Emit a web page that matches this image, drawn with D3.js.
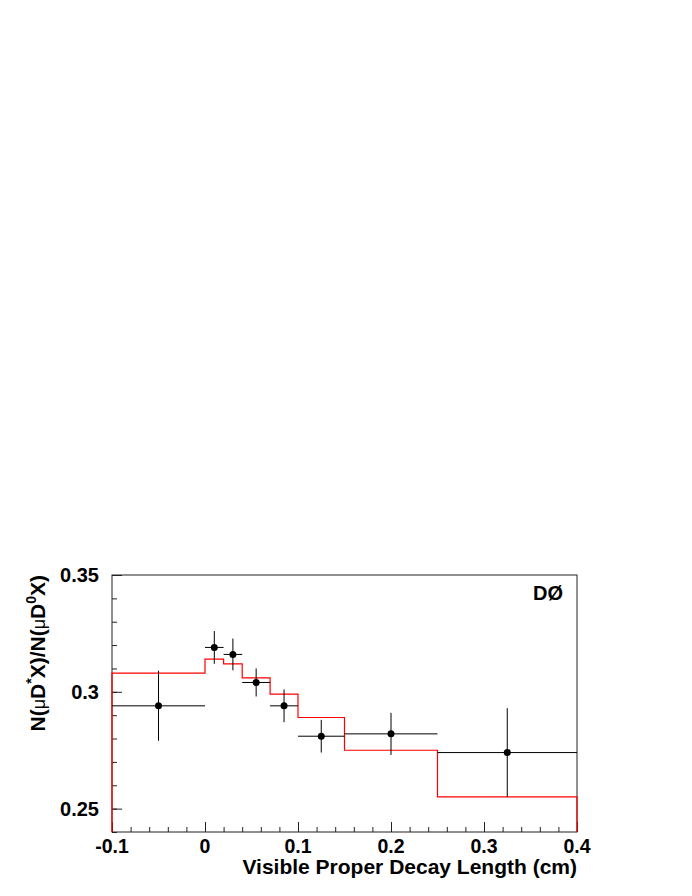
<!DOCTYPE html>
<html>
<head>
<meta charset="utf-8">
<script src="https://cdn.jsdelivr.net/npm/d3@7"></script>
<style>
  html, body { margin: 0; padding: 0; background: #fff; }
  svg { display: block; }
  text { font-family: "Liberation Sans", Arial, Helvetica, sans-serif; }
</style>
</head>
<body>
<div id="chart"></div>
<script>
// ---- data ----
const pointX    = [-0.05, 0.01, 0.03, 0.055, 0.085, 0.125, 0.20, 0.325];
const pointXLo  = [-0.10, 0.00, 0.02, 0.04, 0.07, 0.10, 0.15, 0.25];
const pointXHi  = [ 0.00, 0.02, 0.04, 0.07, 0.10, 0.15, 0.25, 0.40];
const pointY    = [0.294, 0.319, 0.316, 0.304, 0.294, 0.281, 0.282, 0.274];
const pointYErr = [0.015, 0.007, 0.0068, 0.006, 0.007, 0.007, 0.009, 0.019];

const histEdges  = [-0.10, 0.00, 0.02, 0.04, 0.07, 0.10, 0.15, 0.25, 0.40];
const histValues = [0.308, 0.314, 0.312, 0.306, 0.299, 0.289, 0.275, 0.255];

const xTickValues = [-0.1, 0, 0.1, 0.2, 0.3, 0.4];
const xTickLabels = ["-0.1", "0", "0.1", "0.2", "0.3", "0.4"];
const yTickValues = [0.25, 0.30, 0.35];
const yTickLabels = ["0.25", "0.3", "0.35"];

// ---- layout ----
const W = 692, H = 896;
const padL = 112, padR = 577, padT = 575, padB = 832;

const svg = d3.select("#chart").append("svg")
  .attr("width", W).attr("height", H);

const x = d3.scaleLinear().domain([-0.1, 0.4]).range([padL, padR]);
const y = d3.scaleLinear().domain([0.24, 0.35]).range([padB, padT]);

// frame
svg.append("rect")
  .attr("x", padL).attr("y", padT)
  .attr("width", padR - padL).attr("height", padB - padT)
  .attr("fill", "none").attr("stroke", "#222").attr("stroke-width", 1);

// x axis ticks (inside, upward)
const xMinor = d3.range(-0.1, 0.4001, 0.02);
const xAxisMinor = d3.axisTop(x).tickValues(xMinor).tickSize(5).tickFormat("");
svg.append("g").attr("transform", `translate(0,${padB})`).call(xAxisMinor)
  .call(g => g.select(".domain").remove())
  .selectAll("line").attr("stroke", "#222");
const xAxisMajor = d3.axisTop(x).tickValues(xTickValues).tickSize(10).tickFormat("");
svg.append("g").attr("transform", `translate(0,${padB})`).call(xAxisMajor)
  .call(g => g.select(".domain").remove())
  .selectAll("line").attr("stroke", "#222");

// x tick labels
svg.append("g").selectAll("text").data(xTickValues).join("text")
  .attr("x", d => x(d)).attr("y", 853)
  .attr("text-anchor", "middle")
  .attr("font-size", 19.5).attr("font-weight", "bold")
  .text((d, i) => xTickLabels[i]);

// y axis ticks (inside, rightward)
const yMinor = d3.range(0.24, 0.3501, 0.01);
const yAxisMinor = d3.axisRight(y).tickValues(yMinor).tickSize(5).tickFormat("");
svg.append("g").attr("transform", `translate(${padL},0)`).call(yAxisMinor)
  .call(g => g.select(".domain").remove())
  .selectAll("line").attr("stroke", "#222");
const yAxisMajor = d3.axisRight(y).tickValues(yTickValues).tickSize(10).tickFormat("");
svg.append("g").attr("transform", `translate(${padL},0)`).call(yAxisMajor)
  .call(g => g.select(".domain").remove())
  .selectAll("line").attr("stroke", "#222");

// y tick labels
svg.append("g").selectAll("text").data(yTickValues).join("text")
  .attr("x", 99).attr("y", d => y(d) + 7)
  .attr("text-anchor", "end")
  .attr("font-size", 20).attr("font-weight", "bold")
  .text((d, i) => yTickLabels[i]);

// red histogram
const histPts = [[histEdges[0], 0.24]];
histValues.forEach((v, i) => {
  histPts.push([histEdges[i], v]);
  histPts.push([histEdges[i + 1], v]);
});
histPts.push([histEdges[histEdges.length - 1], 0.24]);
svg.append("path")
  .attr("d", d3.line().x(d => x(d[0])).y(d => y(d[1]))(histPts))
  .attr("fill", "none").attr("stroke", "#ff0000").attr("stroke-width", 1.2);

// data points with error bars
const pts = pointX.map((v, i) => ({ x: v, lo: pointXLo[i], hi: pointXHi[i], y: pointY[i], e: pointYErr[i] }));
const gp = svg.append("g");
gp.selectAll("line.h").data(pts).join("line").attr("class", "h")
  .attr("x1", d => x(d.lo)).attr("x2", d => x(d.hi))
  .attr("y1", d => y(d.y)).attr("y2", d => y(d.y))
  .attr("stroke", "#000").attr("stroke-width", 1);
gp.selectAll("line.v").data(pts).join("line").attr("class", "v")
  .attr("x1", d => x(d.x)).attr("x2", d => x(d.x))
  .attr("y1", d => y(d.y - d.e)).attr("y2", d => y(d.y + d.e))
  .attr("stroke", "#000").attr("stroke-width", 1);
gp.selectAll("circle").data(pts).join("circle")
  .attr("cx", d => x(d.x)).attr("cy", d => y(d.y)).attr("r", 3.5)
  .attr("fill", "#000");

// DØ label
svg.append("text")
  .attr("x", 563).attr("y", 600)
  .attr("text-anchor", "end")
  .attr("font-size", 20).attr("font-weight", "bold")
  .text("DØ");

// x title
svg.append("text")
  .attr("x", 577).attr("y", 874)
  .attr("text-anchor", "end")
  .attr("font-size", 21).attr("font-weight", "bold")
  .text("Visible Proper Decay Length (cm)");

// y title
const yt = svg.append("text")
  .attr("transform", `translate(45,${padT}) rotate(-90)`)
  .attr("text-anchor", "end")
  .attr("font-size", 21).attr("font-weight", "bold");
yt.append("tspan").text("N(");
yt.append("tspan").attr("font-weight", "normal").attr("font-size", 18).text("μ");
yt.append("tspan").text("D");
yt.append("tspan").attr("font-size", 14).attr("dy", -9).text("*");
yt.append("tspan").attr("dy", 9).text("X)/N(");
yt.append("tspan").attr("font-weight", "normal").attr("font-size", 18).text("μ");
yt.append("tspan").text("D");
yt.append("tspan").attr("font-size", 14).attr("dy", -9).text("0");
yt.append("tspan").attr("dy", 9).text("X)");
</script>
</body>
</html>
